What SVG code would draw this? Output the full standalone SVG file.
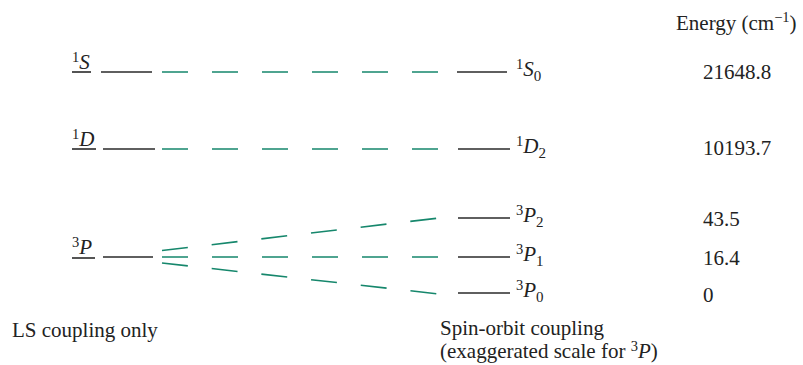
<svg xmlns="http://www.w3.org/2000/svg" width="803" height="365" viewBox="0 0 803 365">
<style>
text{font-family:"Liberation Serif","Times New Roman",serif;fill:#222;font-size:21px}
.it{font-style:italic}
.sup{font-size:14.5px}
.sub{font-size:15px}
.lvl{stroke:#2a2a2a;stroke-width:1.6;fill:none}
.ul{stroke:#2a2a2a;stroke-width:1.6}
.gr{stroke:#16876c;stroke-width:1.6;fill:none;stroke-dasharray:26 24}
</style>
<rect width="803" height="365" fill="#fff"/>
<g id="heading">
<text x="676" y="30">Energy (cm<tspan class="sup" dy="-8">−1</tspan><tspan dy="8">)</tspan></text>
</g>
<g id="level-1S-LS">
<text x="72" y="69"><tspan class="sup" dy="-7">1</tspan><tspan class="it" dy="7">S</tspan></text>
<line class="ul" x1="72" y1="72" x2="91" y2="72"/>
<line class="lvl" x1="101" y1="72" x2="152" y2="72"/>
</g>
<g id="level-1D-LS">
<text x="72" y="146"><tspan class="sup" dy="-7">1</tspan><tspan class="it" dy="7">D</tspan></text>
<line class="ul" x1="72" y1="149" x2="96" y2="149"/>
<line class="lvl" x1="103" y1="149" x2="155" y2="149"/>
</g>
<g id="level-3P-LS">
<text x="72" y="254"><tspan class="sup" dy="-7">3</tspan><tspan class="it" dy="7">P</tspan></text>
<line class="ul" x1="72" y1="258" x2="95" y2="258"/>
<line class="lvl" x1="103" y1="257" x2="153" y2="257"/>
</g>
<g id="level-1S0">
<line class="lvl" x1="457" y1="72" x2="507" y2="72"/>
<text x="516" y="76"><tspan class="sup" dy="-7">1</tspan><tspan class="it" dy="7">S</tspan><tspan class="sub" dy="5">0</tspan></text>
<text x="703" y="79">21648.8</text>
</g>
<g id="level-1D2">
<line class="lvl" x1="458" y1="149" x2="510" y2="149"/>
<text x="516" y="153"><tspan class="sup" dy="-7">1</tspan><tspan class="it" dy="7">D</tspan><tspan class="sub" dy="5">2</tspan></text>
<text x="703" y="155">10193.7</text>
</g>
<g id="level-3P2">
<line class="lvl" x1="458" y1="218" x2="510" y2="218"/>
<text x="516" y="222"><tspan class="sup" dy="-7">3</tspan><tspan class="it" dy="7">P</tspan><tspan class="sub" dy="5">2</tspan></text>
<text x="703" y="226">43.5</text>
</g>
<g id="level-3P1">
<line class="lvl" x1="458" y1="257" x2="510" y2="257"/>
<text x="516" y="261"><tspan class="sup" dy="-7">3</tspan><tspan class="it" dy="7">P</tspan><tspan class="sub" dy="5">1</tspan></text>
<text x="703" y="265">16.4</text>
</g>
<g id="level-3P0">
<line class="lvl" x1="458" y1="293" x2="510" y2="293"/>
<text x="516" y="297"><tspan class="sup" dy="-7">3</tspan><tspan class="it" dy="7">P</tspan><tspan class="sub" dy="5">0</tspan></text>
<text x="703" y="302">0</text>
</g>
<g id="connectors">
<line class="gr" x1="162" y1="72" x2="439" y2="72"/>
<line class="gr" x1="162" y1="149" x2="439" y2="149"/>
<line class="gr" x1="162" y1="250.5" x2="439" y2="218"/>
<line class="gr" x1="162" y1="257" x2="439" y2="257"/>
<line class="gr" x1="162" y1="263" x2="439" y2="294"/>
</g>
<g id="captions">
<text x="12" y="337">LS coupling only</text>
<text x="440" y="335">Spin-orbit coupling</text>
<text x="440" y="358">(exaggerated scale for <tspan class="sup" dy="-7">3</tspan><tspan class="it" dy="7">P</tspan>)</text>
</g>
</svg>
